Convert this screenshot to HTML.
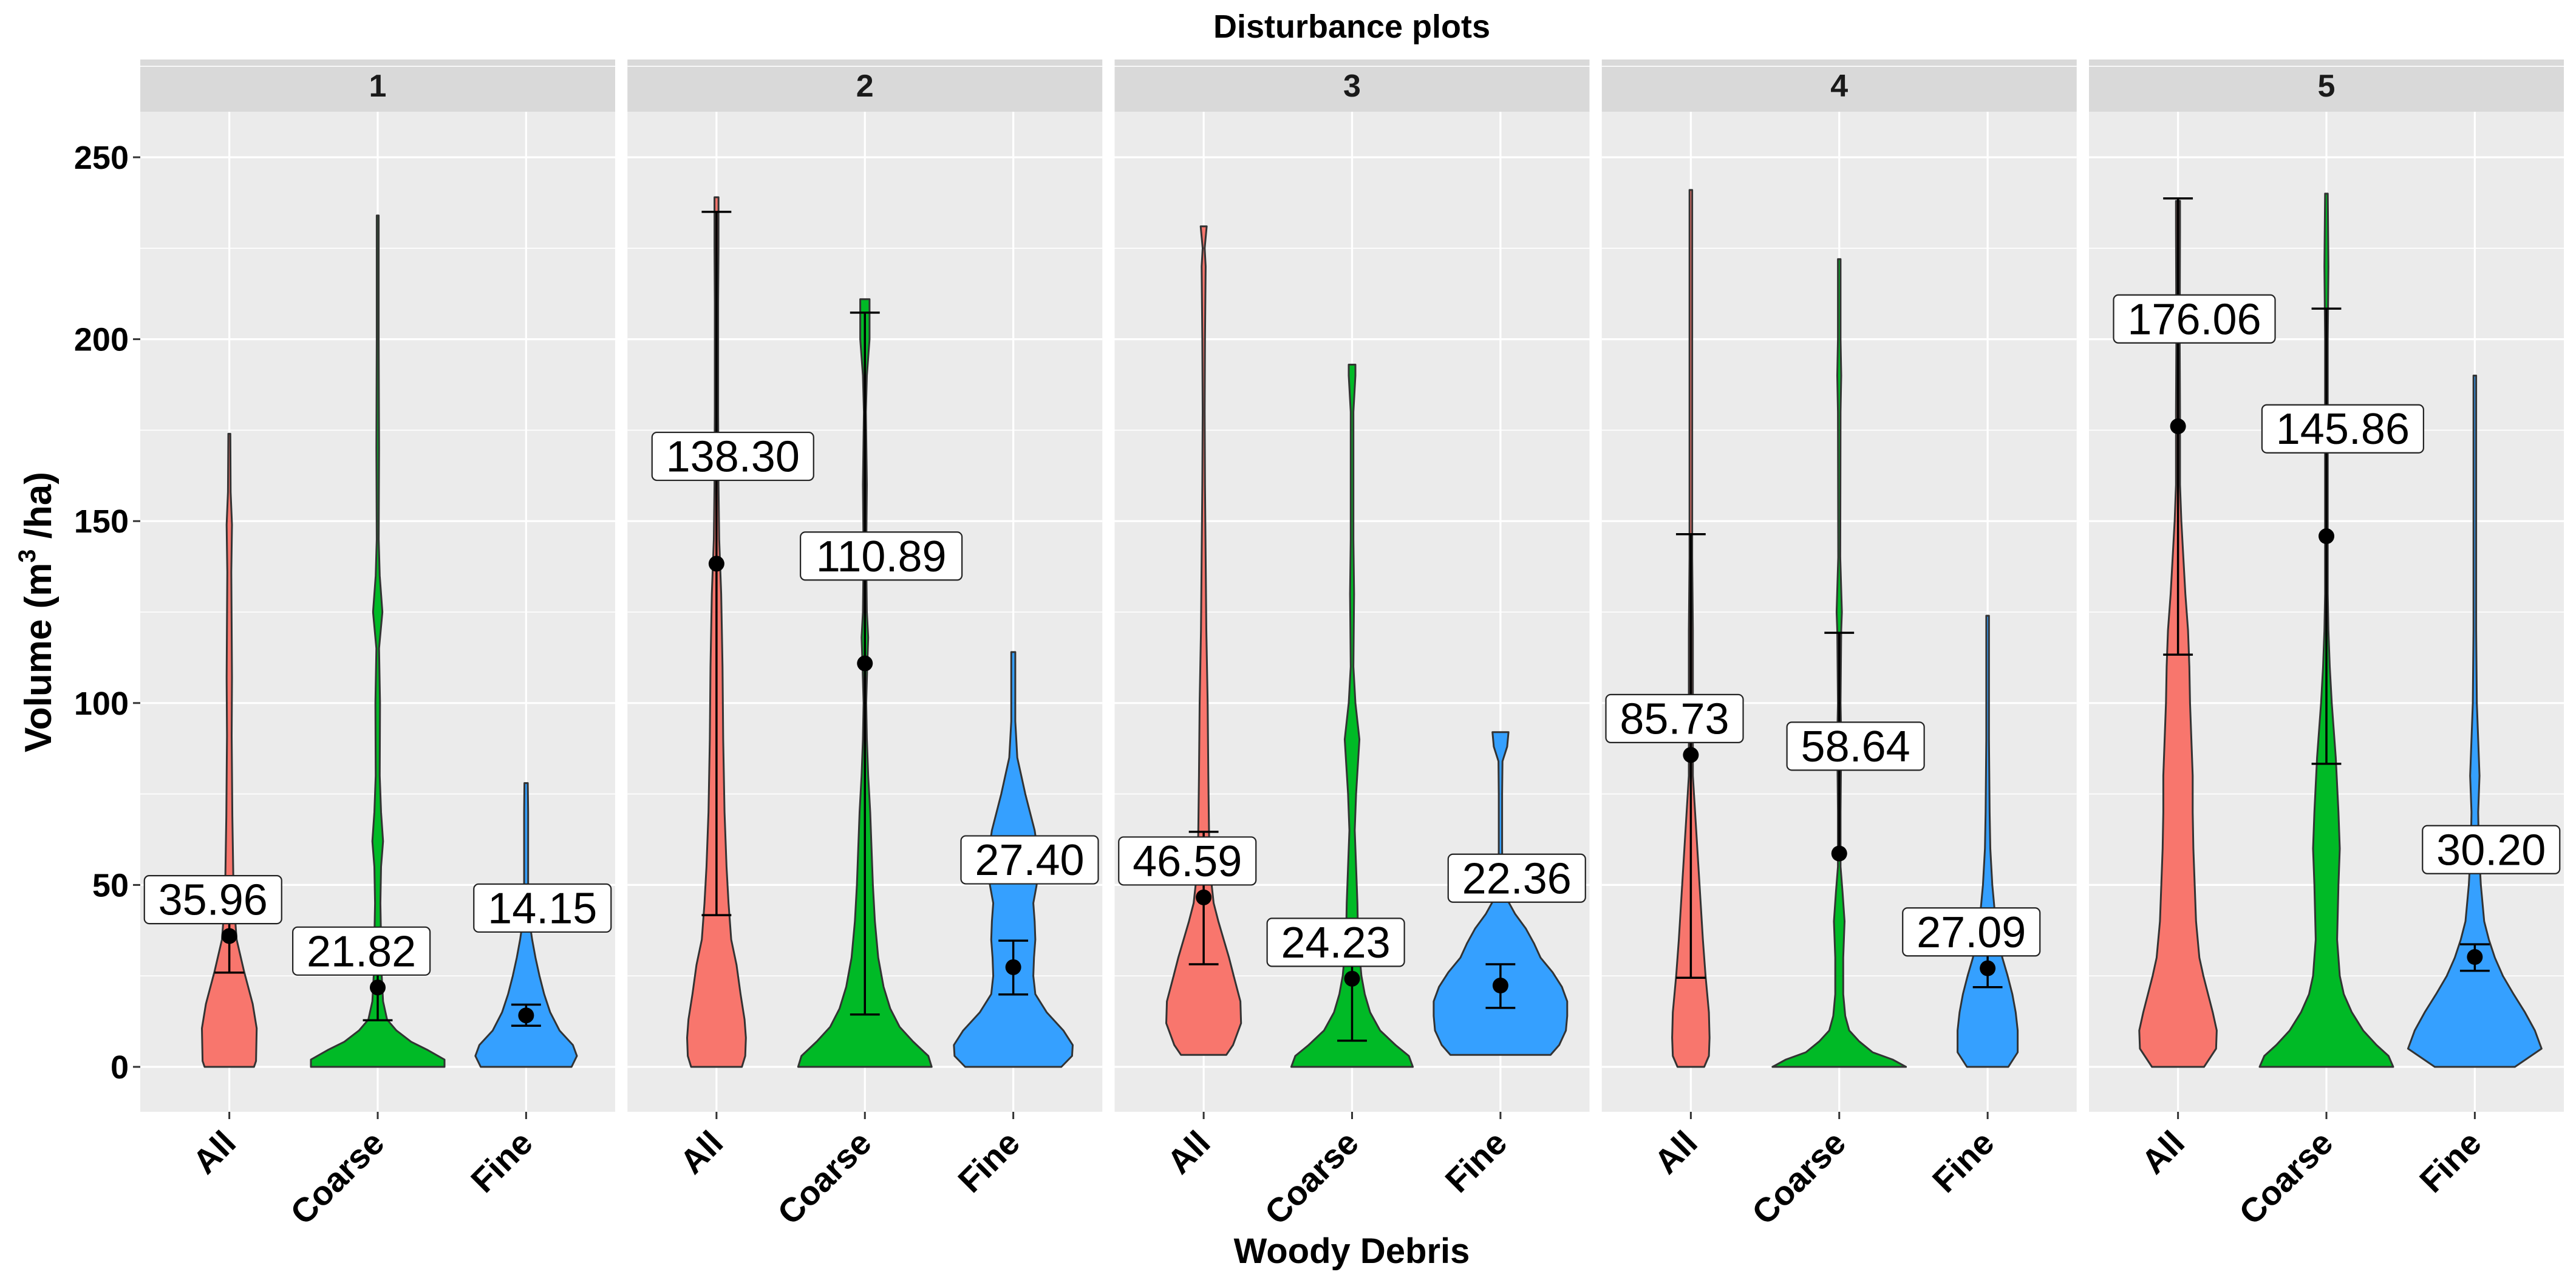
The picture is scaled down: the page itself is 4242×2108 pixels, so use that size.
<!DOCTYPE html>
<html><head><meta charset="utf-8"><style>
html,body{margin:0;padding:0;background:#fff}
svg{display:block}
text{font-family:"Liberation Sans",Arial,sans-serif}
</style></head><body>
<svg id="chart" width="4242" height="2108" viewBox="0 0 4242 2108" xmlns="http://www.w3.org/2000/svg">
<text x="2226" y="62" font-size="54" font-weight="bold" text-anchor="middle">Disturbance plots</text>
<g id="panels"></g>
<text transform="translate(84,1008) rotate(-90)" font-size="62" font-weight="bold" text-anchor="middle">Volume (m<tspan font-size="40" dy="-26">3</tspan><tspan dy="26"> /ha)</tspan></text>
<text x="2226" y="2080" font-size="58" font-weight="bold" text-anchor="middle">Woody Debris</text>
</svg>
<script>
const panelNames = ["1","2","3","4","5"];
const categories = ["All","Coarse","Fine"];
const yTicks = [0,50,100,150,200,250];
const yTickLabels = ["0","50","100","150","200","250"];
const means = [
  [35.96,21.82,14.15],
  [138.30,110.89,27.40],
  [46.59,24.23,22.36],
  [85.73,58.64,27.09],
  [176.06,145.86,30.20]
];
const meanLabels = [
  ["35.96","21.82","14.15"],
  ["138.30","110.89","27.40"],
  ["46.59","24.23","22.36"],
  ["85.73","58.64","27.09"],
  ["176.06","145.86","30.20"]
];
const errLower = [
  [25.9,12.8,11.3],
  [41.7,14.4,19.9],
  [28.2,7.2,16.2],
  [24.5,null,21.9],
  [113.3,83.3,26.4]
];
const errUpper = [
  [46.0,30.8,17.1],
  [235.0,207.3,34.7],
  [64.6,38.0,28.2],
  [146.4,119.3,32.3],
  [238.7,208.4,33.7]
];
// label jitter: 1 = shifted right/up, 0 = shifted left/down
const labelShift = [
  [0,0,1],
  [1,1,1],
  [0,0,1],
  [0,1,0],
  [1,1,1]
];
// violin profiles: [value, relative half-width]
const violins = [
 [
  [[0,0.37],[1.6,0.40],[10.6,0.41],[17.3,0.35],[26.3,0.22],[35,0.11],[46,0.065],[69,0.045],[91,0.035],[107,0.04],[136,0.03],[149,0.04],[158,0.02],[174,0.015]],
  [[0,1.0],[2,1.0],[4.6,0.75],[6.9,0.5],[10,0.28],[13,0.14],[18,0.08],[25,0.06],[35,0.05],[45,0.04],[55,0.05],[62,0.08],[70,0.05],[80,0.03],[100,0.035],[115,0.02],[125,0.07],[135,0.03],[145,0.015],[170,0.02],[200,0.015],[234,0.015]],
  [[0,0.68],[3,0.76],[6,0.7],[10,0.5],[15,0.36],[20,0.27],[25,0.2],[30,0.14],[35,0.09],[40,0.05],[50,0.03],[60,0.03],[70,0.03],[78,0.025]]
 ],
 [
  [[0,0.38],[3,0.43],[8,0.44],[13,0.42],[20,0.36],[28,0.3],[35,0.22],[45,0.18],[55,0.15],[70,0.12],[90,0.1],[110,0.09],[130,0.07],[145,0.04],[160,0.03],[180,0.025],[210,0.025],[225,0.03],[239,0.03]],
  [[0,1.0],[3,0.95],[7,0.72],[11,0.52],[16,0.38],[22,0.28],[30,0.2],[40,0.15],[50,0.12],[60,0.1],[70,0.08],[80,0.05],[90,0.03],[100,0.02],[110,0.035],[118,0.05],[125,0.03],[140,0.02],[160,0.03],[180,0.015],[190,0.03],[200,0.07],[211,0.07]],
  [[0,0.72],[3,0.88],[6,0.89],[10,0.75],[15,0.5],[20,0.33],[25,0.3],[30,0.31],[35,0.33],[40,0.32],[45,0.3],[50,0.35],[55,0.37],[60,0.36],[65,0.32],[70,0.25],[75,0.18],[80,0.12],[85,0.06],[95,0.03],[105,0.03],[114,0.03]]
 ],
 [
  [[3.3,0.34],[6,0.44],[12,0.56],[18,0.55],[25,0.45],[30,0.38],[35,0.3],[40,0.22],[45,0.15],[55,0.09],[65,0.08],[80,0.07],[100,0.06],[120,0.04],[140,0.03],[160,0.02],[180,0.015],[200,0.02],[220,0.03],[225,0.015],[231,0.045]],
  [[0,0.91],[3,0.85],[6,0.65],[10,0.42],[15,0.27],[20,0.19],[25,0.14],[35,0.09],[45,0.08],[55,0.06],[65,0.04],[75,0.06],[90,0.11],[100,0.05],[110,0.02],[130,0.03],[145,0.02],[160,0.02],[180,0.02],[190,0.05],[193,0.05]],
  [[3.3,0.75],[6,0.88],[10,0.98],[14,1.0],[18,1.0],[22,0.92],[26,0.78],[30,0.6],[34,0.5],[38,0.38],[42,0.22],[46,0.1],[50,0.03],[60,0.025],[75,0.025],[84,0.03],[88,0.1],[92,0.12]]
 ],
 [
  [[0,0.2],[3,0.27],[8,0.28],[15,0.27],[25,0.22],[35,0.18],[50,0.13],[65,0.08],[80,0.03],[100,0.03],[120,0.03],[140,0.02],[160,0.02],[200,0.02],[241,0.02]],
  [[0,1.0],[2,0.8],[4,0.5],[7,0.3],[10,0.15],[14,0.09],[20,0.06],[30,0.06],[40,0.08],[48,0.05],[55,0.02],[70,0.02],[90,0.03],[100,0.02],[120,0.03],[125,0.04],[140,0.015],[180,0.02],[190,0.03],[200,0.02],[222,0.02]],
  [[0,0.31],[4,0.45],[10,0.45],[15,0.42],[20,0.37],[25,0.3],[30,0.22],[40,0.12],[50,0.07],[60,0.04],[70,0.03],[90,0.02],[124,0.02]]
 ],
 [
  [[0,0.39],[5,0.57],[10,0.58],[15,0.52],[20,0.45],[25,0.38],[30,0.32],[40,0.27],[50,0.25],[60,0.23],[70,0.22],[80,0.22],[90,0.2],[100,0.18],[110,0.17],[120,0.15],[130,0.11],[140,0.08],[150,0.05],[160,0.03],[180,0.03],[200,0.025],[230,0.03],[238,0.03]],
  [[0,1.0],[3,0.93],[6,0.75],[10,0.55],[15,0.38],[20,0.26],[25,0.2],[35,0.16],[50,0.18],[60,0.2],[70,0.18],[85,0.14],[100,0.08],[110,0.05],[120,0.03],[130,0.02],[150,0.02],[200,0.02],[220,0.03],[240,0.02]],
  [[0,0.6],[5,1.0],[10,0.9],[15,0.75],[20,0.58],[25,0.42],[30,0.3],[35,0.21],[40,0.14],[50,0.09],[60,0.06],[70,0.05],[80,0.07],[90,0.05],[100,0.03],[120,0.02],[150,0.02],[190,0.02]]
 ]
];
const fills = ["#F8766D","#00BA26","#35A0FF"];

const NS = "http://www.w3.org/2000/svg";
const PANEL_LEFT0 = 231, PANEL_STEP = 802.25, PANEL_W = 782;
const PLOT_TOP = 184, PLOT_BOTTOM = 1831, STRIP_TOP = 98;
const UNIT = PANEL_W / 3.2;
const HALF_MAX = 0.45 * UNIT;
function yScale(v){ return 1757 - v * 5.992; }
function xScale(p, i){ return PANEL_LEFT0 + p * PANEL_STEP + (0.6 + i) * UNIT; }
function el(tag, attrs, parent){
  const e = document.createElementNS(NS, tag);
  for (const k in attrs) e.setAttribute(k, attrs[k]);
  parent.appendChild(e);
  return e;
}
const root = document.getElementById("panels");
panelNames.forEach((pn, p) => {
  const left = PANEL_LEFT0 + p * PANEL_STEP;
  const g = el("g", {}, root);
  
  
  const strip = el("rect", {x:left, y:STRIP_TOP, width:PANEL_W, height:PLOT_TOP-STRIP_TOP, fill:"#D9D9D9"}, g);
  
  
  const st = el("text", {x:left+PANEL_W/2, y:159, "font-size":52, "font-weight":"bold", "text-anchor":"middle", fill:"#1a1a1a"}, g);
  st.textContent = pn;
  
  
  const bg = el("rect", {x:left, y:PLOT_TOP, width:PANEL_W, height:PLOT_BOTTOM-PLOT_TOP, fill:"#EBEBEB"}, g);
  
  
  for (let k = 0; k < yTicks.length; k++) {
    const mv = yTicks[k] + 25;
    const ln = el("line", {x1:left, x2:left+PANEL_W, y1:yScale(mv), y2:yScale(mv), stroke:"#fff", "stroke-width":1.6}, g);
    
    
  }
  yTicks.forEach(t => {
    const ln = el("line", {x1:left, x2:left+PANEL_W, y1:yScale(t), y2:yScale(t), stroke:"#fff", "stroke-width":3.2}, g);
    
    
  });
  categories.forEach((c, i) => {
    const cx = xScale(p, i);
    const ln = el("line", {x1:cx, x2:cx, y1:PLOT_TOP, y2:PLOT_BOTTOM, stroke:"#fff", "stroke-width":3.2}, g);
    
    
  });
  categories.forEach((c, i) => {
    const cx = xScale(p, i);
    const prof = violins[p][i];
    let right = prof.map(d => (cx + d[1]*HALF_MAX).toFixed(1) + "," + yScale(d[0]).toFixed(1));
    let leftS = prof.slice().reverse().map(d => (cx - d[1]*HALF_MAX).toFixed(1) + "," + yScale(d[0]).toFixed(1));
    const v = el("polygon", {points: right.concat(leftS).join(" "), fill:fills[i], stroke:"#333", "stroke-width":3, "stroke-linejoin":"round"}, g);
    
    
    const lo = errLower[p][i], hi = errUpper[p][i], m = means[p][i];
    const yLo = lo === null ? yScale(m) : yScale(lo);
    const eb = el("g", {stroke:"#000", "stroke-width":3.5}, g);
    
    
    el("line", {x1:cx, x2:cx, y1:yLo, y2:yScale(hi)}, eb);
    el("line", {x1:cx-UNIT*0.1, x2:cx+UNIT*0.1, y1:yScale(hi), y2:yScale(hi)}, eb);
    if (lo !== null) el("line", {x1:cx-UNIT*0.1, x2:cx+UNIT*0.1, y1:yScale(lo), y2:yScale(lo)}, eb);
    const pt = el("circle", {cx:cx, cy:yScale(m), r:13, fill:"#000"}, g);
    
    
  });
  categories.forEach((c, i) => {
    const s = labelShift[p][i];
    const lx = xScale(p, i) + (s ? 0.11 : -0.11) * UNIT;
    const ly = yScale(means[p][i] + (s ? 29.5 : 10));
    const txt = meanLabels[p][i];
    const w = txt.length * 40 - 8 + 34;
    const lg = el("g", {}, g);
    
    
    el("rect", {x:lx - w/2, y:ly - 39.5, width:w, height:79, rx:8, fill:"#fff", stroke:"#222", "stroke-width":2.2}, lg);
    const t = el("text", {x:lx, y:ly + 25, "font-size":72, "text-anchor":"middle", fill:"#000"}, lg);
    t.textContent = txt;
  });
  categories.forEach((c, i) => {
    const cx = xScale(p, i);
    const tk = el("line", {x1:cx, x2:cx, y1:PLOT_BOTTOM, y2:PLOT_BOTTOM+12, stroke:"#333", "stroke-width":3}, g);
    
    
    const t = el("text", {x:cx+14, y:1886, "font-size":56, "font-weight":"bold", "text-anchor":"end", transform:"rotate(-45 " + (cx+14) + " 1886)", fill:"#000"}, g);
    t.textContent = c;
    
    
  });
});
const ya = el("g", {}, root);


yTicks.forEach((t, k) => {
  const y = yScale(t);
  const tk = el("line", {x1:219, x2:231, y1:y, y2:y, stroke:"#333", "stroke-width":3}, ya);
  
  
  const lb = el("text", {x:212, y:y+19, "font-size":54, "font-weight":"bold", "text-anchor":"end", fill:"#000"}, ya);
  lb.textContent = yTickLabels[k];
  
  
});
</script>
</body></html>
